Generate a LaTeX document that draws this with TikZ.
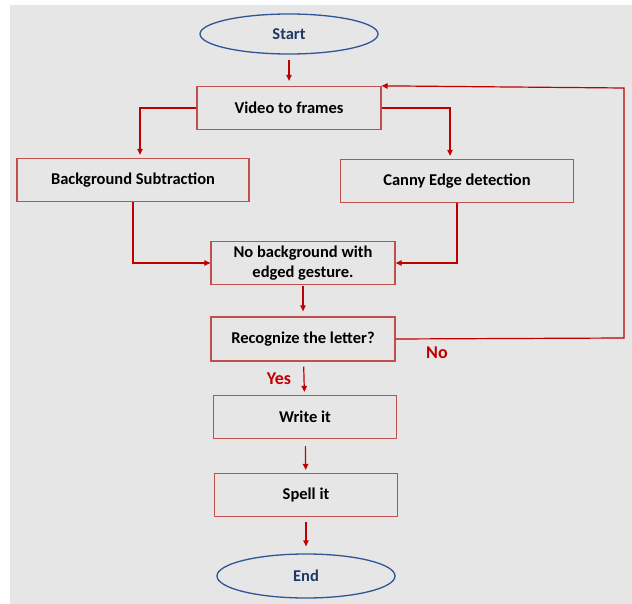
\documentclass[tikz,border=0pt]{standalone}
\usepackage{fontspec}
\setmainfont{Carlito}
\usetikzlibrary{shapes.geometric,arrows.meta}
\definecolor{bgg}{HTML}{E6E6E6}
\definecolor{boxred}{HTML}{C0504D}
\definecolor{arrred}{HTML}{C00000}
\definecolor{ellblue}{HTML}{2F5597}
\definecolor{navy}{HTML}{1F3864}
\tikzset{
  every node/.style={font=\fontsize{16.5}{20}\selectfont\bfseries},
  procbox/.style={draw=boxred, line width=1.3pt, fill=none, rectangle, inner sep=0pt, align=center, text=black},
  term/.style={draw=ellblue, line width=1.3pt, ellipse, inner sep=0pt, text=navy},
  flow/.style={draw=arrred, line width=1.2pt, -{Triangle[length=6pt,width=5.5pt]}},
  lbl/.style={text=arrred, font=\fontsize{18}{20}\selectfont\bfseries}
}
\begin{document}
\begin{tikzpicture}[x=1pt,y=-1pt]
\useasboundingbox (0,0) rectangle (632,604);
\fill[bgg] (10,5) rectangle (632,604);
\node[term, minimum width=178pt, minimum height=40pt] (start) at (289,34) {Start};
\node[procbox, minimum width=184pt, minimum height=43pt] (vid) at (289,108) {Video to frames};
\node[procbox, minimum width=232pt, minimum height=43pt] (bg) at (133,180) {Background Subtraction};
\node[procbox, minimum width=233pt, minimum height=43pt] (cn) at (457,181) {Canny Edge detection};
\node[procbox, minimum width=184pt, minimum height=43pt] (nb) at (303,263) {No background with\\edged gesture.};
\node[procbox, minimum width=184pt, minimum height=44pt] (rec) at (303,339) {Recognize the letter?};
\node[procbox, minimum width=183pt, minimum height=43pt] (wr) at (305,417) {Write it};
\node[procbox, minimum width=183pt, minimum height=43pt] (sp) at (306,495) {Spell it};
\node[term, minimum width=178pt, minimum height=44pt] (end) at (306,576) {End};
\node[lbl] (no) at (437,353) {No};
\node[lbl] (yes) at (279,379) {Yes};
\coordinate (loopbr) at (624,338);
\coordinate (looptr) at (624,88);

\draw[flow, shorten <=5pt, shorten >=5pt] (start) -- (vid);
\draw[flow, shorten >=3pt] (vid.west) -| ([xshift=7pt]bg.north);
\draw[flow, shorten >=3pt] (vid.east) -| ([xshift=-7pt]cn.north);
\draw[flow] (bg.south) |- (nb.west);
\draw[flow] (cn.south) |- (nb.east);
\draw[flow, shorten <=1pt, shorten >=5pt] (nb) -- (rec);
\draw[flow, shorten <=5pt, shorten >=3pt] (rec) -- (wr);
\draw[flow, shorten <=7pt, shorten >=3pt] (wr) -- (sp);
\draw[flow, shorten <=5pt, shorten >=7pt] (sp) -- (end);
\draw[flow] (rec.east) -- (loopbr) -- (looptr) -- (vid.north east);
\end{tikzpicture}
\end{document}
